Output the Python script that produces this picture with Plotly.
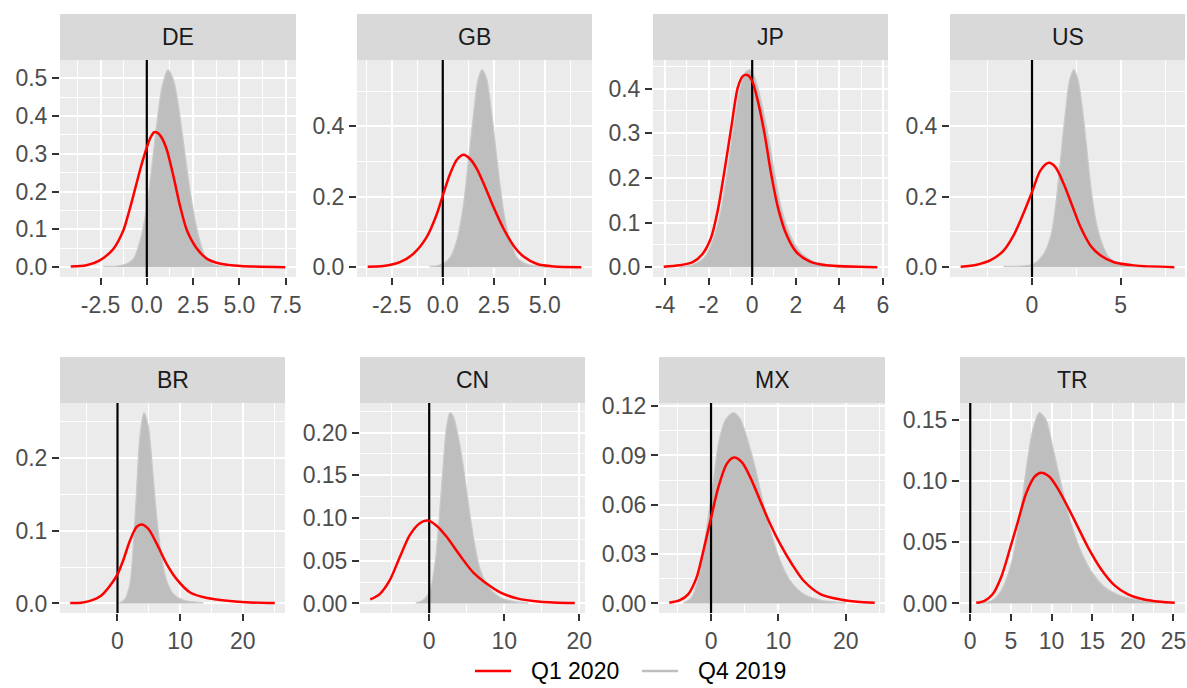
import math
import plotly.graph_objects as go

# ---------------- data ----------------
COUNTRIES = ["DE", "GB", "JP", "US", "BR", "CN", "MX", "TR"]
SERIES_NAMES = ["Q1 2020", "Q4 2019"]

# DE
de_q1_x = [-4.11, -3.26, -2.54, -1.81, -1.27, -1.0, -0.75, -0.5, -0.25, 0.0, 0.2, 0.4, 0.6, 0.8, 1.09, 1.45, 1.81, 2.17, 2.72, 3.26, 3.99, 5.07, 7.48]
de_q1_y = [0.002, 0.005, 0.018, 0.048, 0.097, 0.140, 0.185, 0.232, 0.277, 0.317, 0.343, 0.357, 0.355, 0.343, 0.309, 0.238, 0.159, 0.097, 0.048, 0.022, 0.009, 0.003, 0.0]
de_q4_x = [-2.36, -1.63, -1.09, -0.72, -0.36, 0.0, 0.27, 0.54, 0.82, 1.14, 1.45, 1.72, 1.99, 2.26, 2.54, 2.86, 3.17, 3.62, 4.35]
de_q4_y = [0.002, 0.003, 0.009, 0.022, 0.070, 0.159, 0.265, 0.379, 0.476, 0.522, 0.494, 0.423, 0.326, 0.229, 0.141, 0.071, 0.026, 0.007, 0.001]

# GB
gb_q1_x = [-3.68, -2.91, -2.10, -1.44, -0.79, -0.29, 0.0, 0.36, 0.69, 1.02, 1.34, 1.67, 2.08, 2.49, 2.98, 3.47, 3.96, 4.62, 5.44, 6.79]
gb_q1_y = [0.001, 0.003, 0.014, 0.038, 0.085, 0.151, 0.203, 0.265, 0.305, 0.319, 0.307, 0.279, 0.227, 0.170, 0.109, 0.061, 0.030, 0.009, 0.002, 0.0]
gb_q4_x = [-0.65, -0.29, 0.03, 0.36, 0.69, 1.02, 1.26, 1.51, 1.72, 1.92, 2.13, 2.36, 2.57, 2.82, 3.06, 3.31, 3.63, 4.13, 5.11]
gb_q4_y = [0.002, 0.004, 0.010, 0.028, 0.076, 0.180, 0.303, 0.435, 0.530, 0.560, 0.539, 0.454, 0.350, 0.227, 0.132, 0.076, 0.028, 0.008, 0.0]

# JP
jp_q1_x = [-4.06, -3.34, -2.73, -2.27, -1.88, -1.58, -1.27, -0.96, -0.66, -0.43, -0.20, 0.0, 0.26, 0.57, 0.87, 1.18, 1.56, 2.02, 2.63, 3.40, 5.74]
jp_q1_y = [0.001, 0.004, 0.011, 0.030, 0.067, 0.127, 0.216, 0.313, 0.402, 0.428, 0.430, 0.417, 0.372, 0.298, 0.209, 0.134, 0.074, 0.034, 0.013, 0.004, 0.0]
jp_q4_x = [-3.34, -2.73, -2.19, -1.81, -1.47, -1.16, -0.86, -0.58, -0.32, -0.09, 0.15, 0.41, 0.72, 1.03, 1.33, 1.72, 2.17, 2.79, 3.71, 4.62]
jp_q4_y = [0.0, 0.005, 0.022, 0.060, 0.119, 0.209, 0.313, 0.395, 0.436, 0.442, 0.421, 0.372, 0.298, 0.209, 0.134, 0.074, 0.036, 0.013, 0.004, 0.0]

# US
us_q1_x = [-4.02, -3.11, -2.36, -1.60, -1.04, -0.57, 0.0, 0.47, 0.94, 1.32, 1.79, 2.26, 2.74, 3.30, 3.87, 4.62, 5.75, 8.02]
us_q1_y = [0.001, 0.007, 0.019, 0.047, 0.090, 0.142, 0.213, 0.274, 0.296, 0.284, 0.236, 0.175, 0.113, 0.061, 0.033, 0.014, 0.005, 0.0]
us_q4_x = [-1.60, -0.66, 0.09, 0.66, 1.04, 1.32, 1.60, 1.89, 2.13, 2.36, 2.58, 2.83, 3.08, 3.34, 3.64, 3.96, 4.34, 5.00, 6.51]
us_q4_y = [0.002, 0.003, 0.009, 0.038, 0.085, 0.170, 0.303, 0.444, 0.534, 0.560, 0.534, 0.454, 0.340, 0.217, 0.123, 0.066, 0.028, 0.008, 0.0]

# BR
br_q1_x = [-7.54, -5.51, -3.90, -2.57, -1.23, 0.0, 0.91, 1.98, 3.05, 3.85, 4.92, 6.26, 7.86, 9.47, 11.6, 14.3, 17.5, 21.2, 25.1]
br_q1_y = [0.0005, 0.0014, 0.005, 0.011, 0.024, 0.040, 0.059, 0.086, 0.105, 0.1085, 0.1025, 0.082, 0.054, 0.033, 0.015, 0.0074, 0.0037, 0.0014, 0.0005]
br_q4_x = [0.27, 1.18, 1.98, 2.51, 3.05, 3.58, 4.22, 4.92, 5.61, 6.26, 7.06, 7.86, 8.93, 10.5, 13.7]
br_q4_y = [0.0005, 0.006, 0.027, 0.077, 0.155, 0.229, 0.262, 0.243, 0.183, 0.119, 0.063, 0.031, 0.013, 0.0046, 0.001]

# CN
cn_q1_x = [-7.86, -6.60, -5.27, -3.93, -2.59, -1.25, -0.22, 0.98, 2.32, 4.11, 5.89, 7.68, 9.46, 11.7, 14.8, 19.4]
cn_q1_y = [0.0047, 0.011, 0.027, 0.054, 0.080, 0.094, 0.097, 0.091, 0.078, 0.056, 0.036, 0.023, 0.013, 0.0059, 0.002, 0.0004]
cn_q4_x = [-1.79, -0.80, 0.09, 0.76, 1.34, 1.88, 2.32, 2.77, 3.21, 3.88, 4.55, 5.22, 5.89, 6.79, 7.90, 9.46, 11.25, 13.2]
cn_q4_y = [0.0005, 0.004, 0.015, 0.046, 0.101, 0.164, 0.207, 0.2235, 0.219, 0.195, 0.160, 0.117, 0.078, 0.040, 0.019, 0.007, 0.0024, 0.0004]

# MX
mx_q1_x = [-6.2, -4.62, -3.37, -2.13, -1.14, 0.0, 1.09, 2.33, 3.42, 4.57, 5.81, 7.30, 8.78, 10.27, 12.0, 13.75, 16.23, 19.2, 21.7, 24.3]
mx_q1_y = [0.0004, 0.002, 0.0057, 0.016, 0.032, 0.052, 0.0707, 0.0849, 0.0887, 0.0859, 0.0768, 0.0625, 0.0483, 0.0361, 0.024, 0.0138, 0.0057, 0.0024, 0.001, 0.0004]
mx_q4_x = [-4.12, -2.88, -1.64, -0.65, 0.35, 1.09, 2.08, 3.33, 4.32, 5.31, 6.55, 7.79, 9.03, 10.27, 11.76, 13.75, 16.23, 19.95]
mx_q4_y = [0.0002, 0.0037, 0.020, 0.0463, 0.0747, 0.097, 0.1113, 0.1161, 0.1123, 0.1011, 0.0828, 0.0605, 0.0412, 0.026, 0.0138, 0.0057, 0.002, 0.0004]

# TR
tr_q1_x = [0.74, 1.76, 2.78, 3.80, 4.83, 5.85, 6.87, 7.90, 8.72, 9.74, 10.76, 11.99, 13.2, 14.44, 16.08, 17.72, 19.35, 21.4, 23.45, 25.16]
tr_q1_y = [0.0005, 0.0022, 0.0077, 0.0214, 0.0433, 0.0665, 0.0898, 0.1035, 0.1068, 0.1035, 0.0940, 0.0790, 0.0630, 0.0465, 0.0282, 0.0150, 0.0077, 0.0033, 0.0014, 0.0005]
tr_q4_x = [0.94, 2.58, 3.80, 5.03, 6.06, 6.87, 7.69, 8.51, 9.33, 10.15, 11.17, 12.19, 13.42, 14.85, 16.49, 18.53, 20.99, 24.26]
tr_q4_y = [0.0001, 0.0022, 0.0104, 0.0323, 0.0679, 0.109, 0.1418, 0.156, 0.150, 0.128, 0.098, 0.0706, 0.046, 0.0268, 0.0137, 0.0063, 0.0027, 0.0005]

# axis break steps (major, minor) and label decimals per panel
x_steps = {"DE": (2.5, 1.25), "GB": (2.5, 1.25), "JP": (2, 1), "US": (5, 2.5),
           "BR": (10, 5), "CN": (10, 5), "MX": (10, 5), "TR": (5, 2.5)}
y_steps = {"DE": (0.1, 0.05), "GB": (0.2, 0.1), "JP": (0.1, 0.05), "US": (0.2, 0.1),
           "BR": (0.1, 0.05), "CN": (0.05, 0.025), "MX": (0.03, 0.015), "TR": (0.05, 0.025)}
x_dec = {"DE": 1, "GB": 1, "JP": 0, "US": 0, "BR": 0, "CN": 0, "MX": 0, "TR": 0}
y_dec = {"DE": 1, "GB": 1, "JP": 1, "US": 1, "BR": 1, "CN": 2, "MX": 2, "TR": 2}

SERIES = {
    "DE": (de_q1_x, de_q1_y, de_q4_x, de_q4_y),
    "GB": (gb_q1_x, gb_q1_y, gb_q4_x, gb_q4_y),
    "JP": (jp_q1_x, jp_q1_y, jp_q4_x, jp_q4_y),
    "US": (us_q1_x, us_q1_y, us_q4_x, us_q4_y),
    "BR": (br_q1_x, br_q1_y, br_q4_x, br_q4_y),
    "CN": (cn_q1_x, cn_q1_y, cn_q4_x, cn_q4_y),
    "MX": (mx_q1_x, mx_q1_y, mx_q4_x, mx_q4_y),
    "TR": (tr_q1_x, tr_q1_y, tr_q4_x, tr_q4_y),
}

# ---------------- layout geometry (pixels) ----------------
W, H = 1187, 688
panel_x = {"DE": (60, 296), "GB": (357, 592), "JP": (653, 888), "US": (950, 1185),
           "BR": (60, 285), "CN": (360, 585), "MX": (659, 885), "TR": (960, 1185)}
row_of = {"DE": 0, "GB": 0, "JP": 0, "US": 0, "BR": 1, "CN": 1, "MX": 1, "TR": 1}
panel_y = [(60, 277), (403, 613)]   # top, bottom
strip_y = [(14, 60), (357, 403)]
legend_key_x = [(475, 511), (642, 678)]   # key line span per legend entry
legend_y = 671

FONT = "Liberation Sans, Arial, sans-serif"
TICK_FS = 23
RED = "#FF0000"
GREY = "#BEBEBE"
SERIES_COLORS = [RED, GREY]

fig = go.Figure()
shapes = []
annotations = []


def expand(lo, hi, mult=0.05):
    w = hi - lo
    return [lo - mult * w, hi + mult * w]


def breaks(rng, step, dec):
    k0 = math.ceil(rng[0] / step - 1e-9)
    k1 = math.floor(rng[1] / step + 1e-9)
    vals = [round(k * step, 6) + 0.0 for k in range(k0, k1 + 1)]
    text = [f"{v:.{dec}f}" for v in vals]
    return vals, text


for i, c in enumerate(COUNTRIES):
    n = i + 1
    xs = "x" if n == 1 else f"x{n}"
    ys = "y" if n == 1 else f"y{n}"
    q1x, q1y, q4x, q4y = SERIES[c]
    xr = expand(min(min(q1x), min(q4x), 0), max(max(q1x), max(q4x), 0))
    yr = expand(0, max(max(q1y), max(q4y)))

    fig.add_trace(go.Scatter(x=q4x, y=q4y, mode="lines", fill="tozeroy",
                             name=SERIES_NAMES[1],
                             line=dict(color="#CACACA", width=1.2, shape="spline", smoothing=0.8),
                             fillcolor=GREY, xaxis=xs, yaxis=ys, showlegend=False,
                             hoverinfo="skip"))
    fig.add_trace(go.Scatter(x=[0, 0], y=yr, mode="lines",
                             line=dict(color="black", width=2.2),
                             xaxis=xs, yaxis=ys, showlegend=False, hoverinfo="skip"))
    fig.add_trace(go.Scatter(x=q1x, y=q1y, mode="lines", name=SERIES_NAMES[0],
                             line=dict(color=RED, width=2.5, shape="spline", smoothing=0.8),
                             xaxis=xs, yaxis=ys, showlegend=False, hoverinfo="skip"))

    x0, x1 = panel_x[c]
    r = row_of[c]
    top, bot = panel_y[r]
    xdom = [x0 / W, x1 / W]
    ydom = [1 - bot / H, 1 - top / H]
    xmaj, xmin_ = x_steps[c]
    ymaj, ymin_ = y_steps[c]
    xv, xt = breaks(xr, xmaj, x_dec[c])
    yv, yt = breaks(yr, ymaj, y_dec[c])
    axis_common = dict(showline=False, zeroline=False, ticks="outside", ticklen=7,
                       tickwidth=2.2, tickcolor="#333333", showgrid=True,
                       gridcolor="white", gridwidth=2.4, tickmode="array",
                       automargin=False,
                       tickfont=dict(family=FONT, size=TICK_FS, color="#4D4D4D"))
    fig.layout[f"xaxis{'' if n == 1 else n}"] = dict(
        domain=xdom, anchor=ys, range=xr, tickvals=xv, ticktext=xt,
        minor=dict(dtick=xmin_, tick0=0, showgrid=True, gridcolor="white", gridwidth=1.2),
        **axis_common)
    fig.layout[f"yaxis{'' if n == 1 else n}"] = dict(
        domain=ydom, anchor=xs, range=yr, tickvals=yv, ticktext=yt,
        minor=dict(dtick=ymin_, tick0=0, showgrid=True, gridcolor="white", gridwidth=1.2),
        **axis_common)

    st, sb = strip_y[r]
    shapes.append(dict(type="rect", xref="paper", yref="paper",
                       x0=x0 / W, x1=x1 / W, y0=1 - sb / H, y1=1 - st / H,
                       fillcolor="#D9D9D9", line=dict(width=0), layer="below"))
    annotations.append(dict(text=c, xref="paper", yref="paper",
                            x=(x0 + x1) / 2 / W, y=1 - (st + sb) / 2 / H,
                            xanchor="center", yanchor="middle", showarrow=False,
                            font=dict(family=FONT, size=TICK_FS, color="#1A1A1A")))

# legend (bottom, centred under the panels): key line + label per series
for (lx0, lx1), name, col in zip(legend_key_x, SERIES_NAMES, SERIES_COLORS):
    shapes.append(dict(type="line", xref="paper", yref="paper",
                       x0=lx0 / W, x1=lx1 / W, y0=1 - legend_y / H, y1=1 - legend_y / H,
                       line=dict(color=col, width=2.5)))
    annotations.append(dict(text=name, xref="paper", yref="paper",
                            x=(lx1 + 18) / W, y=1 - legend_y / H,
                            xanchor="left", yanchor="middle", showarrow=False,
                            font=dict(family=FONT, size=TICK_FS, color="black")))

fig.update_layout(
    width=W, height=H,
    margin=dict(l=0, r=0, t=0, b=0, pad=0, autoexpand=False),
    paper_bgcolor="white", plot_bgcolor="#EBEBEB",
    shapes=shapes, annotations=annotations,
    showlegend=False,
    font=dict(family=FONT),
)

fig.write_html("out.html",
               config={"displayModeBar": False},
               post_script="document.body.style.margin='0';document.body.style.overflow='hidden';")
